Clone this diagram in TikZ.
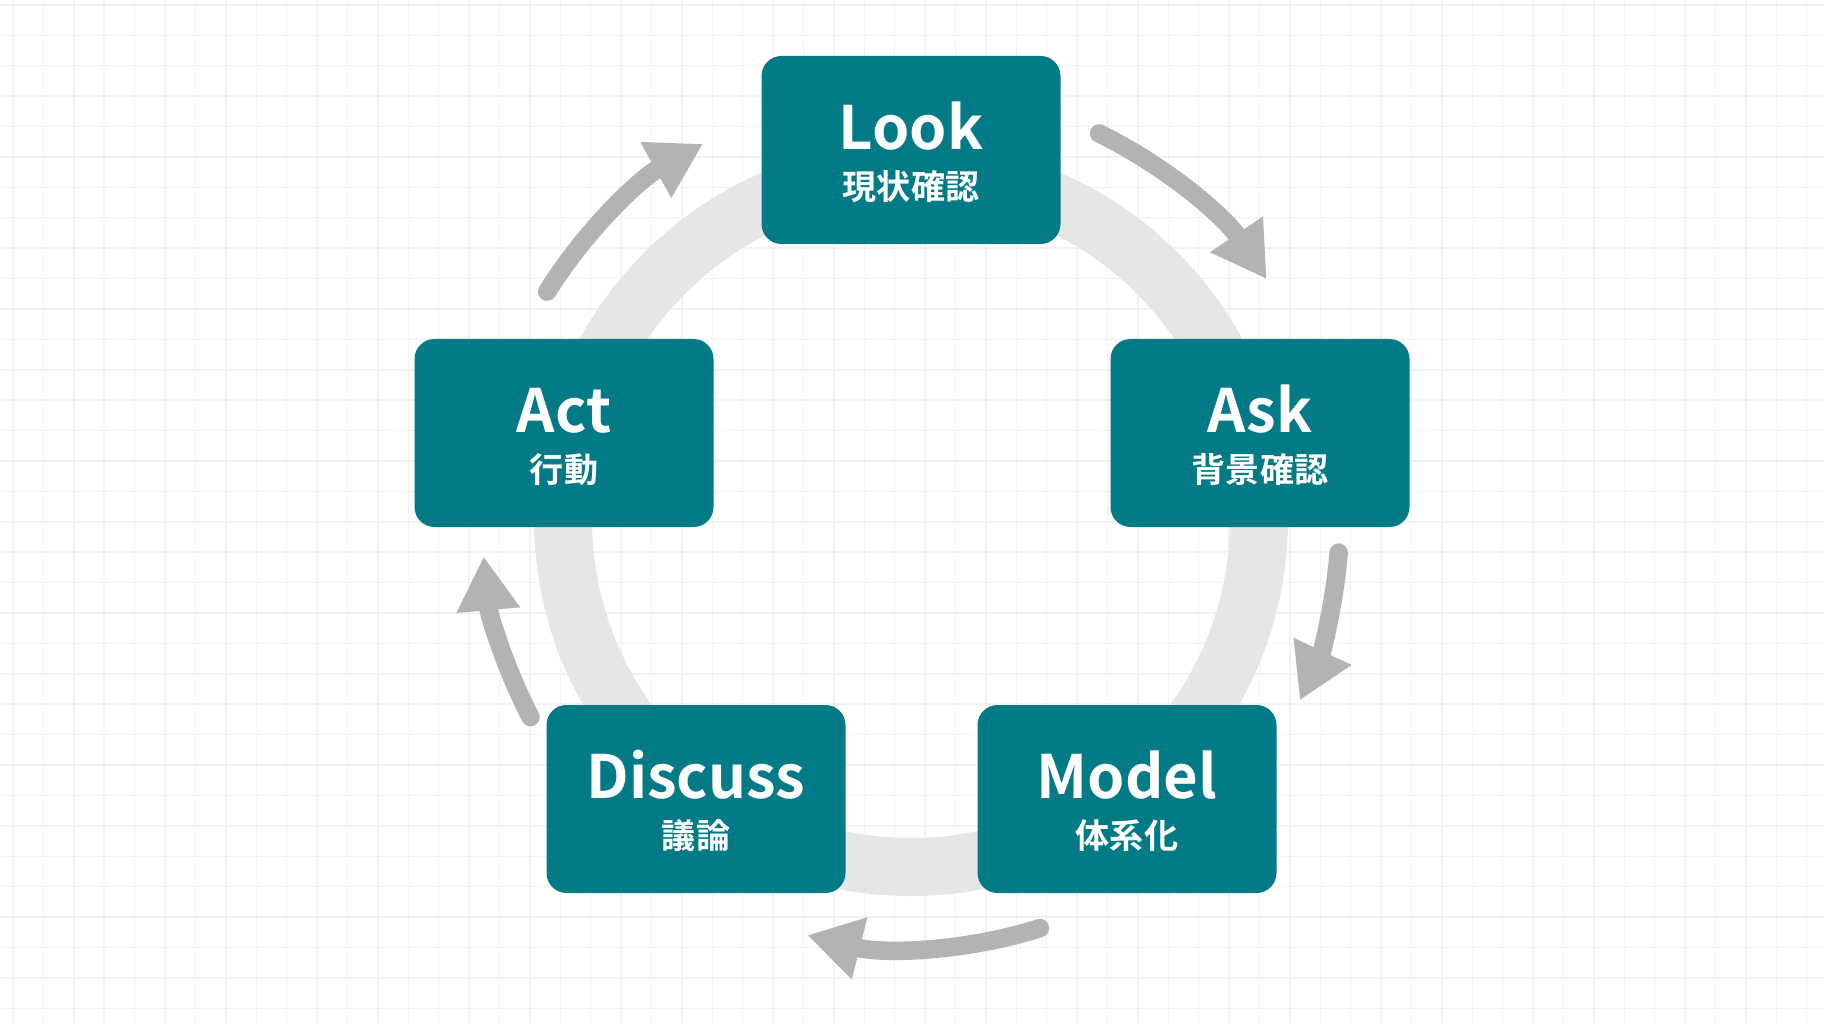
\documentclass[tikz,border=0pt]{standalone}
\usepackage{fontspec}
\setmainfont{Noto Sans CJK JP}[BoldFont={Noto Sans CJK JP Bold}]
\usetikzlibrary{positioning, calc, arrows.meta}
\definecolor{Teal}{HTML}{027B87}
\definecolor{RingGray}{HTML}{E6E6E6}
\definecolor{ArrowGray}{HTML}{B3B3B3}
\definecolor{GridLine}{HTML}{F0F4F0}
\tikzset{
    stepnode/.style={rectangle, rounded corners=0.2cm, fill=Teal, text=white, align=center,
                     minimum width=2.99cm, minimum height=1.88cm, font=\bfseries\fontsize{9.7}{14.2}\selectfont},
    cyclearrow/.style={-{Triangle[length=0.54cm, width=0.6cm]}, line width=0.185cm, line cap=round, draw=ArrowGray},
    ringline/.style={draw=RingGray, line width=0.58cm},
    gridline/.style={draw=GridLine, line width=0.4pt},
}
\newcommand{\steptitle}[1]{{\fontsize{17}{14.2}\selectfont\rule{0pt}{15pt}#1}}

\begin{document}
\begin{tikzpicture}

    % Sfondo a quadretti
    \fill[white] (0,0) rectangle (18.24,10.24);
    \useasboundingbox (0,0) rectangle (18.24,10.24);
    \foreach \i in {0,...,59} \draw[gridline] ({0.13+\i*0.304}, 0) -- ({0.13+\i*0.304}, 10.24);
    \foreach \j in {0,...,33} \draw[gridline] (0, {0.158+\j*0.304}) -- (18.24, {0.158+\j*0.304});

    \coordinate (ctr) at (9.11, 5.05);

    \begin{scope}[shift={(ctr)}]
        % Anello di fondo
        \draw[ringline] (0,0) circle (3.48);

        % --- Frecce del ciclo ---
        \coordinate (lookask) at (64:4.29);
        \coordinate (askmodel) at (-4.5:4.29);
        \coordinate (modeldisc) at (-72.5:4.29);
        \coordinate (discact) at (-152.5:4.29);
        \coordinate (actlook) at (148:4.29);
        \draw[cyclearrow] (lookask) arc[start angle=64, end angle=34, radius=4.29];
        \draw[cyclearrow] (askmodel) arc[start angle=-4.5, end angle=-25, radius=4.29];
        \draw[cyclearrow] (modeldisc) arc[start angle=-72.5, end angle=-104, radius=4.29];
        \draw[cyclearrow] (discact) arc[start angle=-152.5, end angle=-175, radius=4.29];
        \draw[cyclearrow] (actlook) arc[start angle=148, end angle=119, radius=4.29];

        % --- Fasi ---
        \node[stepnode] (look) at (0, 3.69) {\steptitle{Look}\\現状確認};
        \node[stepnode] (ask) at (3.49, 0.86) {\steptitle{Ask}\\背景確認};
        \node[stepnode] (model) at (2.16, -2.80) {\steptitle{Model}\\体系化};
        \node[stepnode] (discuss) at (-2.15, -2.80) {\steptitle{Discuss}\\議論};
        \node[stepnode] (act) at (-3.47, 0.86) {\steptitle{Act}\\行動};
    \end{scope}

\end{tikzpicture}
\end{document}
